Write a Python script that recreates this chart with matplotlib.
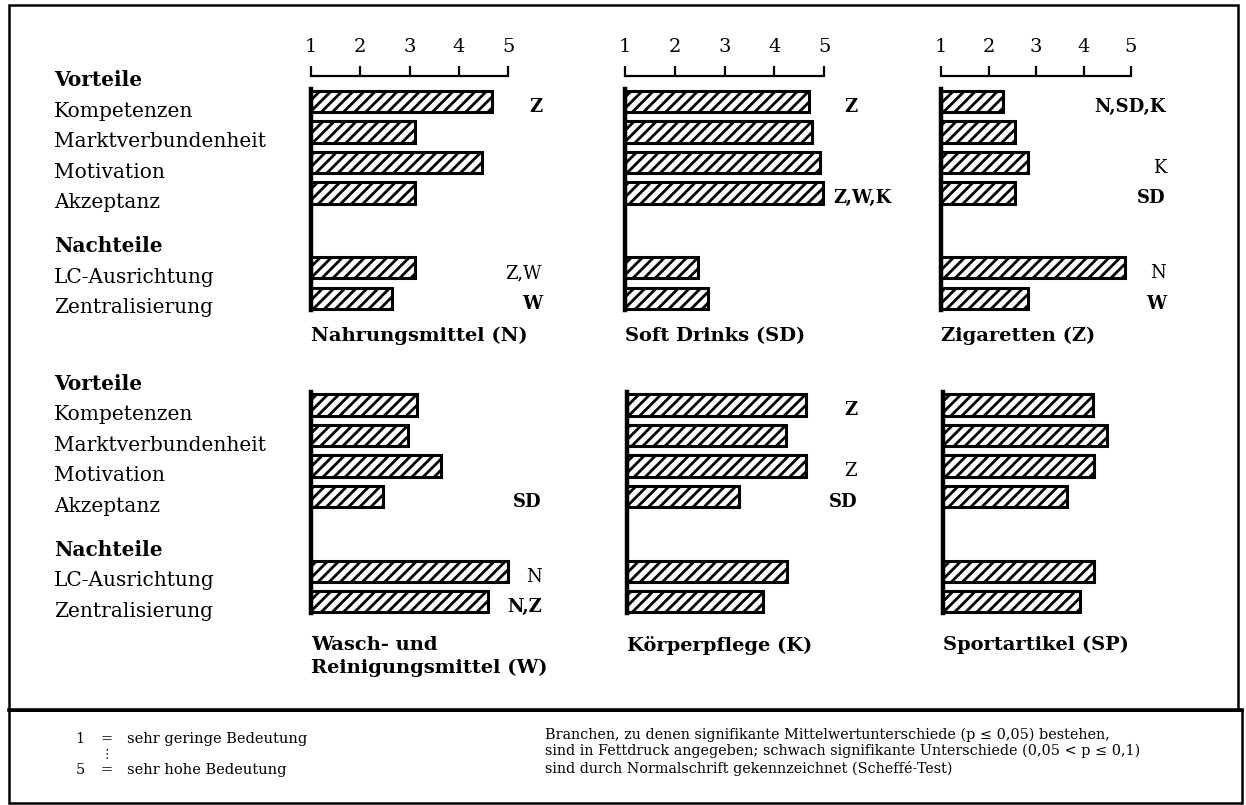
import matplotlib
matplotlib.use('Agg')
import matplotlib.pyplot as plt
from matplotlib.patches import Rectangle
from matplotlib.transforms import blended_transform_factory

plt.rcParams['font.family'] = ['DejaVu Serif', 'DejaVu Sans']
plt.rcParams['hatch.linewidth'] = 2.0

# --- data -------------------------------------------------------------
items = ['Kompetenzen', 'Marktverbundenheit', 'Motivation', 'Akzeptanz',
         'LC-Ausrichtung', 'Zentralisierung']
headers = ['Vorteile', 'Nachteile']
ticks = [1, 2, 3, 4, 5]

titles = ['Nahrungsmittel (N)', 'Soft Drinks (SD)', 'Zigaretten (Z)',
          'Wasch- und\nReinigungsmittel (W)', 'Körperpflege (K)', 'Sportartikel (SP)']

nahrung = [4.67, 3.10, 4.46, 3.10, 3.10, 2.64]
softdrinks = [4.70, 4.75, 4.92, 4.98, 2.46, 2.66]
zigaretten = [2.31, 2.55, 2.83, 2.56, 4.88, 2.84]
wasch = [3.16, 2.96, 3.64, 2.47, 4.99, 4.60]
koerper = [4.59, 4.19, 4.59, 3.24, 4.21, 3.73]
sport = [4.16, 4.45, 4.17, 3.61, 4.17, 3.88]

# significance notes next to the bars: (text, bold)
sig_nahrung = [('Z', True), None, None, None, ('Z,W', False), ('W', True)]
sig_softdrinks = [('Z', True), None, None, ('Z,W,K', True), None, None]
sig_zigaretten = [('N,SD,K', True), None, ('K', False), ('SD', True), ('N', False), ('W', True)]
sig_wasch = [None, None, None, ('SD', True), ('N', False), ('N,Z', True)]
sig_koerper = [('Z', True), None, ('Z', False), ('SD', True), None, None]
sig_sport = [None, None, None, None, None, None]

legend_left = ['1', '=', 'sehr geringe Bedeutung', '5', '=', 'sehr hohe Bedeutung']
legend_right = ['Branchen, zu denen signifikante Mittelwertunterschiede (p \u2264 0,05) bestehen,',
                'sind in Fettdruck angegeben; schwach signifikante Unterschiede (0,05 < p \u2264 0,1)',
                'sind durch Normalschrift gekennzeichnet (Scheffé-Test)']

# --- layout (pixels) --------------------------------------------------
W, H = 1246, 805
ypos = [0, 1, 2, 3, 5.45, 6.45]
pitch = 30.5
row_c0 = [101.5, 405]
col_left = [[311, 625, 941], [311, 627, 943]]
col_unit = [49.3, 49.8, 47.5]
ann_right = [542, 857, 1166]
xmax = 6.6
ytop, ybot = -0.85, 6.95

panels = [(nahrung, sig_nahrung), (softdrinks, sig_softdrinks), (zigaretten, sig_zigaretten),
          (wasch, sig_wasch), (koerper, sig_koerper), (sport, sig_sport)]

fig = plt.figure(figsize=(W / 100, H / 100), dpi=100)

for k, (vals, sigs) in enumerate(panels):
    row, col = divmod(k, 3)
    left = col_left[row][col]
    unit = col_unit[col]
    top = row_c0[row] + ytop * pitch
    height = (ybot - ytop) * pitch
    width = (xmax - 1) * unit
    ax = fig.add_axes([left / W, 1 - (top + height) / H, width / W, height / H])
    ax.set_xlim(1, xmax)
    ax.set_ylim(ybot, ytop)
    ax.patch.set_alpha(0)

    ax.barh(ypos, [v - 1 for v in vals], left=1, height=0.7, color='white',
            edgecolor='black', hatch='///', linewidth=2.2)

    for s in ['right', 'bottom']:
        ax.spines[s].set_visible(False)
    ax.spines['left'].set_linewidth(3.2)
    ax.spines['left'].set_bounds(ypos[0] - 0.42, ypos[-1] + 0.38)
    ax.set_yticks([])

    if row == 0:
        ax.spines['top'].set_bounds(1, 5)
        ax.spines['top'].set_linewidth(1.6)
        ax.xaxis.tick_top()
        ax.set_xticks(ticks)
        ax.set_xticklabels([str(t) for t in ticks])
        ax.tick_params(axis='x', direction='out', length=7, width=1.6, labelsize=14, pad=7)
    else:
        ax.spines['top'].set_visible(False)
        ax.set_xticks([])

    xr = 1 + (ann_right[col] - left) / unit
    for i, s in enumerate(sigs):
        if s is None:
            continue
        txt, bold = s
        if txt == 'Z,W,K':
            ax.text(vals[i] + 0.2, ypos[i] + 0.34, txt, ha='left', va='baseline',
                    fontsize=13, fontweight='bold')
        else:
            ax.text(xr, ypos[i] + 0.34, txt, ha='right', va='baseline', fontsize=13,
                    fontweight='bold' if bold else 'normal')

    # panel title
    ttop = 327 if row == 0 else 636
    fig.text(left / W, 1 - ttop / H, titles[k], ha='left', va='top', fontsize=14,
             fontweight='bold', linespacing=1.3)

    # row labels on the left
    if col == 0:
        tr = blended_transform_factory(fig.transFigure, ax.transData)
        ax.text(54 / W, ypos[0] - 1 + 0.5, headers[0], transform=tr, ha='left',
                va='baseline', fontsize=14.5, fontweight='bold', clip_on=False)
        ax.text(54 / W, ypos[4] - 1 + 0.5, headers[1], transform=tr, ha='left',
                va='baseline', fontsize=14.5, fontweight='bold', clip_on=False)
        for i, lab in enumerate(items):
            ax.text(54 / W, ypos[i] + 0.5, lab, transform=tr, ha='left',
                    va='baseline', fontsize=14.5, clip_on=False)

# frames
fig.patches.append(Rectangle((9 / W, 1 - 710 / H), (1238 - 9) / W, (710 - 5) / H,
                             transform=fig.transFigure, fill=False, edgecolor='black', linewidth=1.8))
fig.patches.append(Rectangle((9 / W, 1 - 803 / H), (1242 - 9) / W, (803 - 710) / H,
                             transform=fig.transFigure, fill=False, edgecolor='black', linewidth=1.8))
fig.add_artist(plt.Line2D([9 / W, 1242 / W], [1 - 710 / H, 1 - 710 / H], transform=fig.transFigure,
                          color='black', linewidth=2.6))

# footnote
for j, y in enumerate([739, 770]):
    fig.text(80 / W, 1 - y / H, legend_left[3 * j], ha='center', va='center', fontsize=10.5)
    fig.text(107 / W, 1 - y / H, legend_left[3 * j + 1], ha='center', va='center', fontsize=10.5)
    fig.text(127 / W, 1 - y / H, legend_left[3 * j + 2], ha='left', va='center', fontsize=10.5)
fig.text(107 / W, 1 - 754 / H, '\u22ee', ha='center', va='center', fontsize=9)
for j, y in enumerate([735, 751, 768]):
    fig.text(545 / W, 1 - y / H, legend_right[j], ha='left', va='center', fontsize=10.4)

fig.savefig('out.png', dpi=100)
